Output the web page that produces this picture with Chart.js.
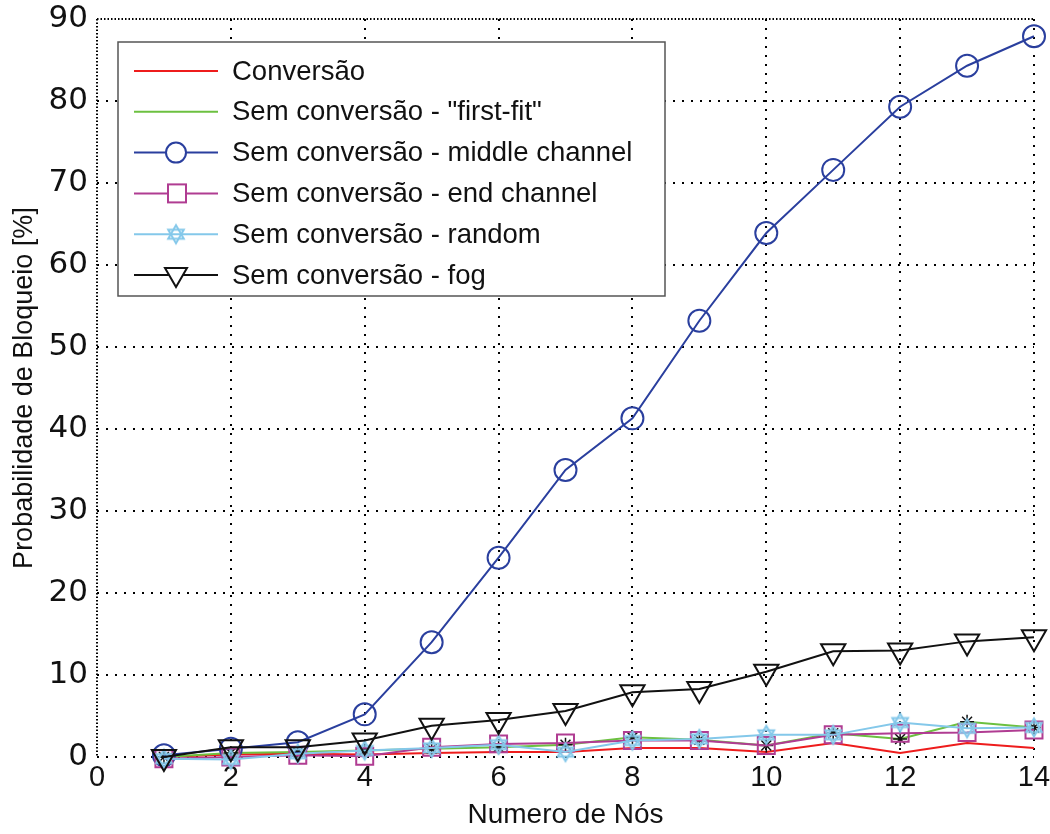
<!DOCTYPE html>
<html>
<head>
<meta charset="utf-8">
<script src="https://cdn.jsdelivr.net/npm/chart.js@4/dist/chart.umd.min.js"></script>
<style>
  html, body { margin: 0; padding: 0; background: #fff; }
</style>
</head>
<body>
<canvas id="myChart" width="1050" height="834"></canvas>
<script>
// data
var nodes = [1, 2, 3, 4, 5, 6, 7, 8, 9, 10, 11, 12, 13, 14];
var conversao = [0, 0.3, 0.4, 0.3, 0.5, 0.6, 0.6, 1.1, 1.1, 0.6, 1.7, 0.5, 1.7, 1.1];
var firstFit = [0, 0.5, 0.6, 0.8, 1.0, 1.2, 1.5, 2.4, 2.1, 1.4, 2.9, 2.2, 4.3, 3.6];
var middleChannel = [0.2, 1.0, 1.8, 5.2, 14.0, 24.3, 35.0, 41.3, 53.2, 63.9, 71.6, 79.3, 84.3, 87.9];
var endChannel = [-0.2, 0, 0.2, 0.1, 1.2, 1.6, 1.7, 2.0, 2.0, 1.4, 2.7, 2.9, 3.0, 3.3];
var randomCh = [-0.2, -0.3, 0.4, 0.8, 1.1, 1.5, 0.6, 2.0, 2.2, 2.7, 2.7, 4.2, 3.5, 3.6];
var fog = [0, 1.2, 1.2, 2.0, 3.8, 4.5, 5.6, 7.9, 8.3, 10.4, 12.9, 13.0, 14.1, 14.6];

var xTicks = [0, 2, 4, 6, 8, 10, 12, 14];
var labels = ['Conversão', 'Sem conversão - "first-fit"', 'Sem conversão - middle channel',
  'Sem conversão - end channel', 'Sem conversão - random', 'Sem conversão - fog'];
var colors = ['#ee1c1c', '#6cc040', '#2a3f9e', '#b03c92', '#84c8ea', '#111111'];

var FONT = '"Liberation Sans", Arial, Helvetica, sans-serif';

// hexagram marker (matlab 'h'-ish) as small image
function makeHexagram(color) {
  var c = document.createElement('canvas');
  c.width = 24; c.height = 24;
  var g = c.getContext('2d');
  g.strokeStyle = color; g.lineWidth = 2;
  var r = 9;
  for (let k = 0; k < 2; k++) {
    g.beginPath();
    for (let j = 0; j < 3; j++) {
      var a = (k * 60 + j * 120 - 90) * Math.PI / 180;
      var px = 12 + r * Math.cos(a), py = 12 + r * Math.sin(a);
      if (j == 0) g.moveTo(px, py); else g.lineTo(px, py);
    }
    g.closePath();
    g.stroke();
  }
  return c;
}
var hexImg = makeHexagram(colors[4]);

function toPoints(arr) {
  return arr.map((v, i) => ({x: nodes[i], y: v}));
}

var seriesData = [conversao, firstFit, middleChannel, endChannel, randomCh, fog];
var markers = ['none', 'star', 'circle', 'rect', hexImg, 'triangle'];
var radii = [0, 7, 11, 12, 10, 14];

var datasets = seriesData.map((arr, i) => ({
  label: labels[i],
  data: toPoints(arr),
  borderColor: colors[i],
  backgroundColor: 'rgba(0,0,0,0)',
  borderWidth: 2,
  pointStyle: markers[i] == 'none' ? 'circle' : markers[i],
  pointRadius: radii[i],
  pointBorderColor: i == 1 ? '#111' : colors[i],
  pointBorderWidth: i == 1 ? 1.5 : 2,
  pointBackgroundColor: 'rgba(0,0,0,0)',
  pointRotation: i == 5 ? 180 : 0,
  tension: 0,
  fill: false,
  clip: false,
  order: 6 - i
}));

// matlab style legend box
const boxLegend = {
  id: 'boxLegend',
  afterDraw(chart) {
    const ctx = chart.ctx;
    ctx.save();
    ctx.fillStyle = '#fff';
    ctx.strokeStyle = '#555';
    ctx.lineWidth = 1.5;
    ctx.fillRect(118, 42, 547, 254);
    ctx.strokeRect(118, 42, 547, 254);
    ctx.font = '27.5px ' + FONT;
    ctx.textBaseline = 'middle';
    for (let i = 0; i < labels.length; i++) {
      var y = 71 + i * 40.8;
      ctx.strokeStyle = colors[i];
      ctx.lineWidth = 2;
      ctx.beginPath(); ctx.moveTo(134, y); ctx.lineTo(218, y); ctx.stroke();
      var m = markers[i];
      if (m == 'circle') {
        ctx.beginPath(); ctx.arc(176, y, 10, 0, Math.PI * 2);
        ctx.fillStyle = '#fff'; ctx.fill(); ctx.stroke();
      } else if (m == 'rect') {
        ctx.fillStyle = '#fff';
        ctx.fillRect(168, y - 9, 18, 18); ctx.strokeRect(168, y - 9, 18, 18);
      } else if (m == hexImg) {
        ctx.drawImage(hexImg, 176 - 12, y - 12);
      } else if (m == 'triangle') {
        ctx.beginPath();
        ctx.moveTo(165, y - 7); ctx.lineTo(187, y - 7); ctx.lineTo(176, y + 12);
        ctx.closePath(); ctx.fillStyle = '#fff'; ctx.fill(); ctx.stroke();
      }
      ctx.fillStyle = '#111';
      ctx.fillText(labels[i], 232, y + 1);
    }
    ctx.restore();
  }
};

const ctx = document.getElementById('myChart');
const myChart = new Chart(ctx, {
  type: 'line',
  data: { datasets: datasets },
  options: {
    responsive: false,
    animation: false,
    layout: { padding: { top: 19, right: 15, left: 0, bottom: 0 } },
    plugins: { legend: { display: false }, tooltip: { enabled: false } },
    scales: {
      x: {
        type: 'linear', min: 0, max: 14,
        afterBuildTicks: (s) => { s.ticks = xTicks.map(v => ({value: v})); },
        afterFit: (s) => { s.height = 77; s.paddingLeft = 0; s.paddingRight = 0; },
        ticks: { font: { family: FONT, size: 29 }, color: '#111', padding: 4 },
        grid: { color: '#000', lineWidth: 2, drawTicks: false },
        border: { display: false, dash: (c) => c.index == 0 ? [1.5, 2] : [2, 7] },
        title: { display: true, text: 'Numero de Nós', font: { family: FONT, size: 28 },
                 color: '#111', padding: { top: 0, bottom: 2 } }
      },
      y: {
        min: 0, max: 90,
        afterFit: (s) => { s.width = 97; s.paddingTop = 0; s.paddingBottom = 0; },
        ticks: { stepSize: 10, font: { family: '"DejaVu Sans", sans-serif', size: 31 }, color: '#111', padding: 9 },
        grid: { color: '#000', lineWidth: 2, drawTicks: false },
        border: { display: false, dash: (c) => c.index == 9 ? [1.5, 2] : [2, 7] },
        title: { display: true, text: 'Probabilidade de Bloqueio [%]', font: { family: FONT, size: 27 },
                 color: '#111', padding: { top: 8, bottom: 0 } }
      }
    }
  },
  plugins: [boxLegend]
});
</script>
</body>
</html>
